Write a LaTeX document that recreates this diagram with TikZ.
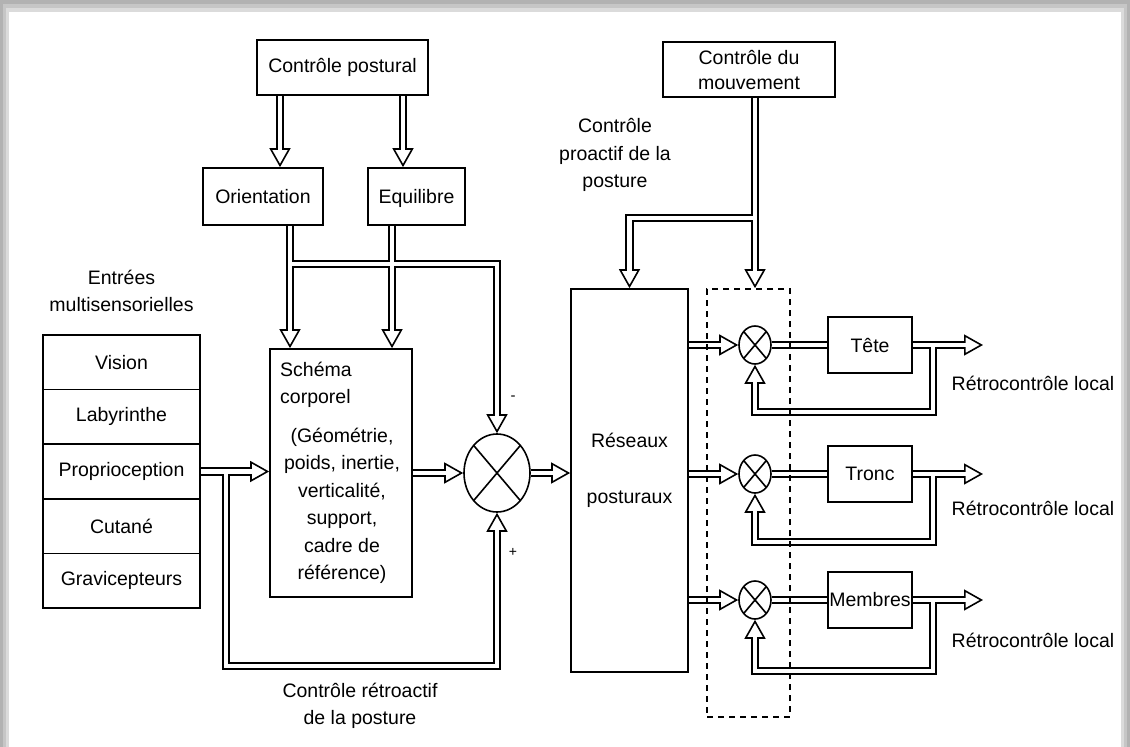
\documentclass[tikz,border=0pt]{standalone}
\usepackage{fontspec}
\setmainfont{Liberation Sans}
\usetikzlibrary{arrows.meta,shapes.geometric,calc}
\pgfdeclarelayer{bg}
\pgfdeclarelayer{conn}
\pgfsetlayers{bg,conn,main}
\newcommand\drawconnectors{%
 \path[arr] ([xshift=-62.5pt]cp.south) -- ([xshift=17pt]or.north);
 \path[arr] ([xshift=60.5pt]cp.south) -- ([xshift=-13.5pt]eq.north);
 \path[arr] ([xshift=27pt]or.south) -- ([xshift=-51pt]sc.north);
 \path[arr] ([xshift=-24.5pt]eq.south) -- ([xshift=51pt]sc.north);
 \path[arr] (jo) -| (sum.north);
 \path[arr] (prop.east) -- (prop.east -| sc.west);
 \path[arr] (jp) -- ++(0,194.5) -| (sum.south);
 \path[arr] (sc.east) -- (sum.west);
 \path[arr] (sum.east) -- (sum.east -| res.west);
 \path[arr] (s1 |- cm.south) -- (s1 |- db.north);
 \path[arr] (jm) -| (res.north);
 \path[arr] (s1.west -| res.east) -- (s1.west);
 \path[arr] (s2.west -| res.east) -- (s2.west);
 \path[arr] (s3.west -| res.east) -- (s3.west);
 \path[pln] (s1.east) -- (s1.east -| b1.west);
 \path[pln] (s2.east) -- (s2.east -| b2.west);
 \path[pln] (s3.east) -- (s3.east -| b3.west);
 \path[arr] (b1.east) -- (o1);
 \path[arr] (b2.east) -- (o2);
 \path[arr] (b3.east) -- (o3);
 \path[arr] (f1) -- ++(0,67) -| (s1.south);
 \path[arr] (f2) -- ++(0,68) -| (s2.south);
 \path[arr] (f3) -- ++(0,71) -| (s3.south);
}
\begin{document}
\begin{tikzpicture}[x=1pt,y=-1pt,font=\fontsize{19.5pt}{27.5pt}\selectfont,
  box/.style={draw, line width=1.7pt, inner sep=0pt, align=center},
  row/.style={box, minimum width=157pt, minimum height=54.6pt},
  sumn/.style={draw, ellipse, line width=1.6pt, inner sep=0pt,
    path picture={\draw[line width=1.6pt] (path picture bounding box.north west) -- (path picture bounding box.south east)
      (path picture bounding box.north east) -- (path picture bounding box.south west);}},
  bigsum/.style={sumn, minimum width=66pt, minimum height=78pt},
  smallsum/.style={sumn, minimum width=32pt, minimum height=38pt},
  lbl/.style={inner sep=0pt, align=center},
  dashbox/.style={draw, line width=1.7pt, dash pattern=on 6pt off 5pt, inner sep=0pt}
]
\begin{pgfonlayer}{bg}
\fill[gray!60] (0,0) rectangle (1130,747);
\fill[gray!45] (3,4) rectangle (1127,747);
\fill[gray!28] (6,8) rectangle (1124,747);
\fill[white] (9,12) rectangle (1121,747);
\end{pgfonlayer}
\useasboundingbox (0,0) rectangle (1130,747);

% top left
\node[box, minimum width=171pt, minimum height=55pt] (cp) at (342.5,67.5) {Contrôle postural};
\node[box, minimum width=120pt, minimum height=57pt] (or) at (263,196.5) {Orientation};
\node[box, minimum width=97pt, minimum height=57pt, text depth=0pt] (eq) at (416.5,196.5) {Equilibre};
% schema
\node[box, minimum width=142pt, minimum height=248pt] (sc) at (341,473) {};
\node[lbl, anchor=west, align=left] (scA) at (280,385) {Schéma\\corporel};
\node[lbl] (scB) at (342,506) {(Géométrie,\\poids, inertie,\\verticalité,\\support,\\cadre de\\référence)};
% main sum
\node[bigsum] (sum) at (497,473) {};
\node[lbl, font=\fontsize{15pt}{16pt}\selectfont] (minus) at (513,398) {-};
\node[lbl, font=\fontsize{14pt}{16pt}\selectfont] (plus) at (513,552) {+};
% sensory inputs
\node[lbl] (ent) at (121.5,291) {Entrées\\multisensorielles};
\node[row] (r1) at (121.5,362.3) {Vision};
\node[row] (r2) at (121.5,416.9) {Labyrinthe};
\node[row] (prop) at (121.5,471.5) {Proprioception};
\node[row] (r4) at (121.5,526.1) {Cutané};
\node[row] (r5) at (121.5,580.7) {Gravicepteurs};
\node[lbl] (ret) at (360,706) {Contrôle rétroactif\\de la posture};
% right part
\node[box, minimum width=172pt, minimum height=55pt, font=\fontsize{19.5pt}{25pt}\selectfont] (cm) at (749,69.5) {Contrôle du\\mouvement};
\node[lbl] (pro) at (615,155) {Contrôle\\proactif de la\\posture};
\node[box, minimum width=117pt, minimum height=383pt] (res) at (629.5,480.5) {};
\node[lbl] (resl) at (629.5,470) {Réseaux\\[28.5pt]posturaux};
\node[smallsum] (s1) at (755,345) {};
\node[smallsum] (s2) at (755,474) {};
\node[smallsum] (s3) at (755,600) {};
\node[box, minimum width=84pt, minimum height=56pt] (b1) at (870,345) {Tête};
\node[box, minimum width=84pt, minimum height=56pt] (b2) at (870,474) {Tronc};
\node[box, minimum width=84pt, minimum height=56pt] (b3) at (870,600) {Membres};
\node[lbl] (l1) at (1033,383) {Rétrocontrôle local};
\node[lbl] (l2) at (1033,508) {Rétrocontrôle local};
\node[lbl] (l3) at (1033,640) {Rétrocontrôle local};
\node[dashbox, minimum width=83pt, minimum height=428pt] (db) at (748.5,503) {};

\coordinate (jo) at (290,264);
\coordinate (jp) at (226,471.5);
\coordinate (jm) at (755,218);
\coordinate (o1) at (983,345);
\coordinate (o2) at (983,474);
\coordinate (o3) at (983,600);
\coordinate (f1) at (933,345);
\coordinate (f2) at (933,474);
\coordinate (f3) at (933,600);

\begin{pgfonlayer}{conn}
\begin{scope}[arr/.style={draw=black, line width=8.4pt, shorten >=12pt},
              pln/.style={draw=black, line width=8.4pt}]
\drawconnectors
\end{scope}
\begin{scope}[arr/.style={draw=white, line width=4.6pt,
                -{Triangle[length=19pt,width=21pt,line width=1.6pt,color=black,fill=white]}},
              pln/.style={draw=white, line width=4.6pt}]
\drawconnectors
\end{scope}
\begin{scope}[arr/.style={draw=white, line width=4.6pt, shorten >=16pt},
              pln/.style={}]
\drawconnectors
\end{scope}
\end{pgfonlayer}
\end{tikzpicture}
\end{document}
